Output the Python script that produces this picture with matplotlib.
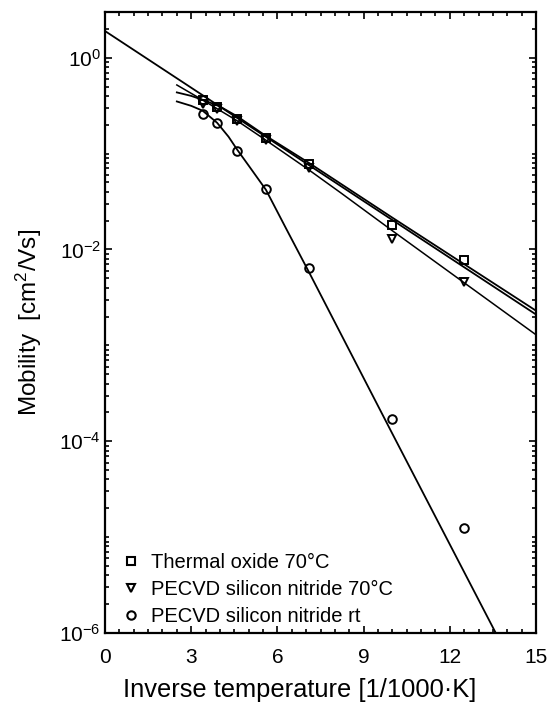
import matplotlib
matplotlib.use("Agg")
import matplotlib.pyplot as plt
from matplotlib.ticker import LogLocator, MultipleLocator, NullFormatter, FixedLocator
from matplotlib.lines import Line2D

plt.rcParams['font.family'] = ['Liberation Sans', 'DejaVu Sans']
plt.rcParams['mathtext.fontset'] = 'custom'
plt.rcParams['mathtext.rm'] = 'Liberation Sans'
plt.rcParams['mathtext.it'] = 'Liberation Sans:italic'
plt.rcParams['axes.unicode_minus'] = False

# ---- data ----
x_T = [3.4, 3.9, 4.6, 5.6, 7.1, 10.0, 12.5]
mu_oxide = [0.36, 0.31, 0.23, 0.146, 0.078, 0.018, 0.0077]
mu_nitride70 = [0.33, 0.29, 0.22, 0.14, 0.070, 0.013, 0.0046]
x_rt = [3.4, 3.4, 3.9, 4.6, 5.6, 7.1, 10.0, 12.5]
mu_nitride_rt = [0.36, 0.26, 0.207, 0.107, 0.0425, 0.0064, 1.7e-4, 1.25e-5]

# fit curves
fitA_x = [0, 15]
fitA_y = [1.9, 0.0021]
fitOx_x = [2.5, 3.0, 3.5, 4.0, 4.6, 5.6, 7.1, 10.0, 15.0]
fitOx_y = [0.435, 0.40, 0.355, 0.31, 0.245, 0.153, 0.080, 0.0215, 0.0023]
fitN_x = [2.5, 3.4, 4.6, 5.6, 7.1, 8.2, 10.0, 12.5, 15.0]
fitN_y = [0.52, 0.362, 0.22, 0.138, 0.0675, 0.0391, 0.0157, 0.0045, 0.00129]
fitRT_x = [2.5, 3.0, 3.4, 3.9, 4.3, 4.6, 5.0, 5.6, 6.3, 7.1, 10.0, 13.6]
fitRT_y = [0.35, 0.315, 0.28, 0.21, 0.15, 0.11, 0.075, 0.042, 0.0166, 0.0058, 1.2e-4, 1.0e-6]

labels = ['Thermal oxide 70\u00b0C', 'PECVD silicon nitride 70\u00b0C', 'PECVD silicon nitride rt']

W, H = 548, 702
fig = plt.figure(figsize=(W/100, H/100), dpi=100)
ax = fig.add_axes([105/W, 1-633/H, (536-105)/W, (633-12)/H])

lc = 'black'
ax.plot(fitA_x, fitA_y, color=lc, lw=1.3)
ax.plot(fitOx_x, fitOx_y, color=lc, lw=1.3)
ax.plot(fitN_x, fitN_y, color=lc, lw=1.1)
ax.plot(fitRT_x, fitRT_y, color=lc, lw=1.3)

mk = dict(linestyle='none', markerfacecolor='none', markeredgecolor='black', markeredgewidth=1.4, markersize=6.2)
ax.plot(x_T, mu_oxide, marker='s', **mk)
ax.plot(x_T, mu_nitride70, marker='v', **mk)
ax.plot(x_rt, mu_nitride_rt, marker='o', **mk)

ax.set_yscale('log')
ax.set_xlim(0, 15)
ax.set_ylim(1e-6, 3.0)

ax.xaxis.set_major_locator(MultipleLocator(3))
ax.xaxis.set_minor_locator(MultipleLocator(0.5))
ax.yaxis.set_major_locator(FixedLocator([1e-6, 1e-4, 1e-2, 1e0]))
ax.yaxis.set_minor_locator(LogLocator(base=10, subs=[1, 2, 3, 4, 5, 6, 7, 8, 9], numticks=20))
ax.yaxis.set_minor_formatter(NullFormatter())

ax.tick_params(which='both', direction='in', top=True, right=True, labelsize=15, width=1.2, colors='black')
ax.tick_params(which='major', length=5)
ax.tick_params(which='minor', length=3)
ax.tick_params(axis='x', pad=11)
ax.tick_params(axis='y', pad=3)
for s in ax.spines.values():
    s.set_linewidth(1.6)

ax.set_xlabel('Inverse temperature [1/1000\u00b7K]', fontsize=18.4)
ax.xaxis.set_label_coords(0.452, -0.073, transform=ax.transAxes)
ax.xaxis.label.set_verticalalignment('top')
ax.set_ylabel('Mobility  [cm$^2$/Vs]', fontsize=17.5, labelpad=11)

handles = [Line2D([], [], marker=m, linestyle='none', markerfacecolor='none',
                  markeredgecolor='black', markeredgewidth=1.5, markersize=6) for m in ['s', 'v', 'o']]
ax.legend(handles, labels, loc='lower left', bbox_to_anchor=(0.0, -0.012), frameon=False,
          fontsize=14.5, handletextpad=0.4, labelspacing=0.4, handlelength=1.2, borderaxespad=0.3)

fig.savefig('out.png', dpi=100)
